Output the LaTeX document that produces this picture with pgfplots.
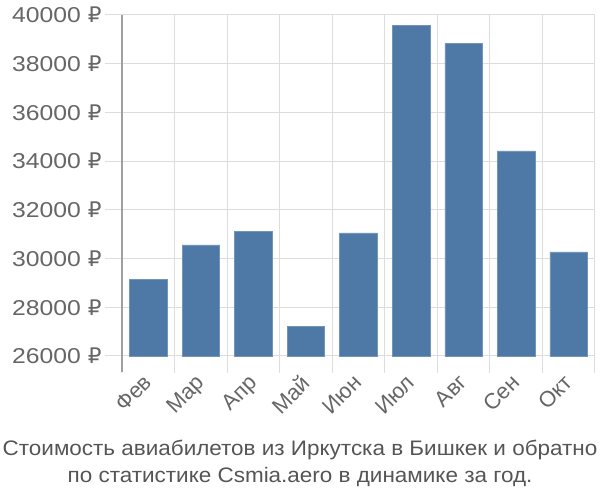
\documentclass[border=0pt]{standalone}
\usepackage{pgfplots}
\pgfplotsset{compat=1.18}
\usepackage{fontspec}
\setmainfont{Liberation Sans}
\newfontfamily\tickfont[FakeStretch=1.15]{Liberation Sans}
\newfontfamily\titlefont[FakeStretch=1.07]{Liberation Sans}
\newfontfamily\rub{DejaVu Sans}
\newcommand{\R}{{\rub ₽}}
\definecolor{barblue}{HTML}{4E79A7}
\definecolor{gridc}{HTML}{DDDDDD}
\definecolor{axc}{HTML}{A0A0A0}
\definecolor{txt}{HTML}{666666}
\definecolor{ttl}{HTML}{555555}
\begin{document}
\begin{tikzpicture}[x=1pt,y=1pt]
\useasboundingbox (-122,-144) rectangle (478,356);
\begin{axis}[
  at={(0,0)}, anchor=south west,
  scale only axis, width=473pt, height=341pt,
  xmin=-0.5, xmax=8.5, ymin=26000, ymax=40000,
  scaled y ticks=false,
  axis line style={draw=none},
  xtick={-0.5,0.5,...,8.5}, xticklabels={},
  ytick={26000,28000,...,40000},
  yticklabels={26000 \R,28000 \R,30000 \R,32000 \R,34000 \R,36000 \R,38000 \R,40000 \R},
  grid=major, major grid style={gridc, line width=1pt},
  tick align=outside, tick pos=left,
  major tick length=17pt,
  tick style={gridc, line width=1pt},
  y tick label style={font=\tickfont\fontsize{21.5}{24}\selectfont, text=txt},
  extra x ticks={0,1,...,8},
  extra x tick labels={Фев,Мар,Апр,Май,Июн,Июл,Авг,Сен,Окт},
  extra x tick style={grid=none, major tick length=0pt,
    tick label style={font=\fontsize{22}{24}\selectfont, text=txt, xshift=-6pt, yshift=-17pt, rotate=45, anchor=north east, inner sep=0pt}},
  clip=false,
]
\addplot[ybar, bar width=37.5pt, fill=barblue, draw=barblue!80!white, line width=0.5pt, bar shift=0pt]
  coordinates {(0,29160) (1,30560) (2,31120) (3,27220) (4,31050) (5,39560) (6,38830) (7,34420) (8,30270)};
\draw[axc, line width=1.5pt] ([yshift=-16pt]rel axis cs:0,0) -- (rel axis cs:0,1);
\end{axis}
\node[align=center, text=ttl, font=\titlefont\fontsize{21}{27}\selectfont] at (178,-107) {Стоимость авиабилетов из Иркутска в Бишкек и обратно\\по статистике Csmia.aero в динамике за год.};
\end{tikzpicture}
\end{document}
